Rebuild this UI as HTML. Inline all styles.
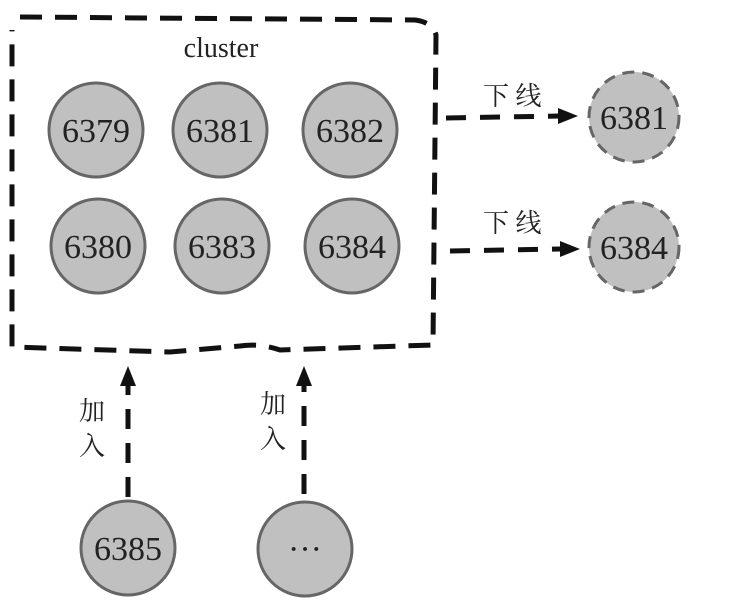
<!DOCTYPE html>
<html><head><meta charset="utf-8"><style>
body{margin:0;background:#fff;}
svg text{font-family:"Liberation Serif","Noto Serif CJK SC",serif;fill:#222;}
</style></head><body>
<svg width="743" height="610" viewBox="0 0 743 610" xmlns="http://www.w3.org/2000/svg">
<defs><marker id="a" markerWidth="10" markerHeight="10" refX="8" refY="5" orient="auto" markerUnits="userSpaceOnUse" viewBox="0 0 10 10"><path d="M0,0 L10,5 L0,10z" fill="#111"/></marker>
<marker id="b" viewBox="0 0 10 10" refX="8" refY="5" markerWidth="18" markerHeight="18" orient="auto" markerUnits="userSpaceOnUse"><path d="M0,1 L10,5 L0,9z" fill="#111"/></marker></defs>
<path d="M20,17 L415,20 Q432,22 436,35 L433,345 L280,350 Q260,343 240,346 L170,352 L12,347 L12,30" fill="none" stroke="#111" stroke-width="5" stroke-dasharray="22,13"/>
<text x="221" y="57" font-size="28" text-anchor="middle">cluster</text>
<g fill="#c0c0c0" stroke="#666" stroke-width="3">
<circle cx="96" cy="130" r="47"/><circle cx="220" cy="130" r="47"/><circle cx="350" cy="130" r="47"/>
<circle cx="98" cy="246" r="47"/><circle cx="222" cy="246" r="47"/><circle cx="352" cy="246" r="47"/>
<circle cx="128" cy="548" r="47"/><circle cx="305" cy="549" r="47"/>
<circle cx="634" cy="117" r="45" stroke-dasharray="12,8"/><circle cx="634" cy="247" r="45" stroke-dasharray="12,8"/>
</g>
<g font-size="34" text-anchor="middle">
<text x="96" y="142">6379</text><text x="220" y="142">6381</text><text x="350" y="142">6382</text>
<text x="98" y="258">6380</text><text x="222" y="258">6383</text><text x="352" y="258">6384</text>
<text x="128" y="560">6385</text><text x="305" y="560">···</text>
<text x="634" y="129">6381</text><text x="634" y="259">6384</text>
</g>
<g stroke="#111" stroke-width="5" stroke-dasharray="20,14" fill="none">
<line x1="446" y1="118" x2="560" y2="116"/>
<line x1="450" y1="251" x2="562" y2="249"/>
<line x1="128" y1="497" x2="128" y2="385"/>
<line x1="304" y1="494" x2="304" y2="385"/>
</g>
<path d="M558,108 L578,116 L558,124z" fill="#111"/>
<path d="M560,241 L580,249 L560,257z" fill="#111"/>
<path d="M120,386 L128,366 L136,386z" fill="#111"/>
<path d="M296,386 L304,366 L312,386z" fill="#111"/>
<g font-size="26" fill="#333">
<text x="483" y="105">下 线</text><text x="483" y="232">下 线</text>
<text x="79" y="420">加</text><text x="79" y="455">入</text>
<text x="260" y="413">加</text><text x="260" y="448">入</text>
</g>
</svg>
</body></html>
